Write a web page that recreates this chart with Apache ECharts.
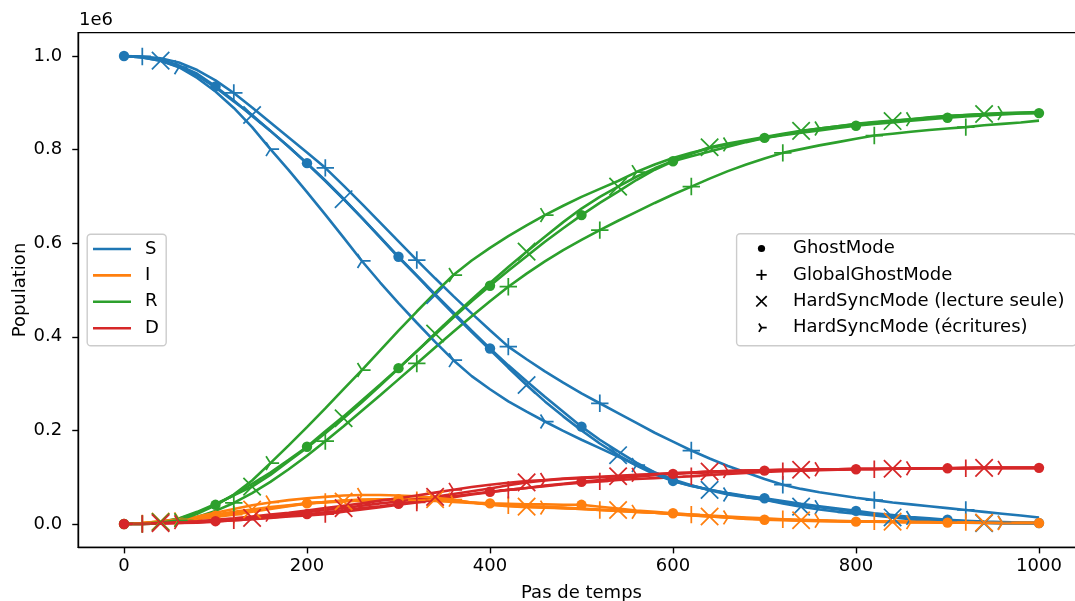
<!DOCTYPE html>
<html><head><meta charset="utf-8">
<script src="https://cdn.jsdelivr.net/npm/echarts@6/dist/echarts.min.js"></script>
<style>html,body{margin:0;padding:0;background:#fff}#chart{width:1075px;height:601px}</style>
</head><body><div id="chart"></div>
<script>
// ---------- data ----------
const steps = [0,20,40,60,80,100,120,140,160,180,200,220,240,260,280,300,320,340,360,380,400,420,440,460,480,500,520,540,560,580,600,620,640,660,680,700,720,740,760,780,800,820,840,860,880,900,920,940,960,980,1000];
const xTicks = [0,200,400,600,800,1000];
const yTicks = [0,0.2,0.4,0.6,0.8,1.0];
const compartments = ['S','I','R','D'];
const modes = ['GhostMode','GlobalGhostMode','HardSyncMode (lecture seule)','HardSyncMode (écritures)'];

// values in units of 1e6
const S_ghost = [1.000,0.998,0.992,0.980,0.962,0.935,0.905,0.872,0.840,0.806,
  0.771,0.734,0.695,0.654,0.613,0.571,0.531,0.491,0.452,0.413,
  0.375,0.339,0.305,0.272,0.240,0.208,0.180,0.155,0.131,0.110,
  0.092,0.081,0.073,0.066,0.060,0.055,0.049,0.043,0.038,0.033,
  0.028,0.023,0.019,0.015,0.012,0.009,0.007,0.005,0.004,0.003,0.002];
const S_global = [1.000,0.999,0.995,0.986,0.970,0.948,0.921,0.890,0.858,0.826,
  0.794,0.761,0.723,0.684,0.644,0.604,0.564,0.525,0.487,0.450,
  0.414,0.379,0.352,0.326,0.302,0.279,0.258,0.237,0.216,0.195,
  0.176,0.157,0.140,0.124,0.110,0.096,0.084,0.075,0.068,0.062,
  0.056,0.051,0.046,0.042,0.038,0.034,0.030,0.026,0.022,0.018,0.014];
const S_lect = [1.000,0.997,0.990,0.977,0.958,0.933,0.903,0.874,0.840,0.806,
  0.770,0.733,0.694,0.654,0.612,0.570,0.530,0.489,0.449,0.410,
  0.372,0.334,0.297,0.262,0.230,0.200,0.172,0.147,0.125,0.106,
  0.092,0.082,0.073,0.065,0.058,0.052,0.044,0.037,0.031,0.026,
  0.022,0.018,0.014,0.010,0.007,0.005,0.003,0.002,0.001,0.001,0.001];
const S_ecr = [1.000,0.997,0.990,0.976,0.953,0.924,0.889,0.848,0.801,0.756,
  0.709,0.661,0.612,0.562,0.516,0.472,0.430,0.389,0.350,0.316,
  0.288,0.262,0.240,0.219,0.199,0.180,0.162,0.144,0.126,0.110,
  0.095,0.083,0.072,0.063,0.057,0.052,0.046,0.041,0.036,0.031,
  0.026,0.021,0.017,0.013,0.010,0.008,0.006,0.004,0.003,0.002,0.002];

const I_ghost = [0.000,0.002,0.005,0.009,0.013,0.018,0.023,0.028,0.034,0.039,
  0.044,0.047,0.050,0.052,0.053,0.053,0.052,0.051,0.049,0.046,
  0.044,0.043,0.042,0.042,0.041,0.041,0.037,0.033,0.029,0.026,
  0.023,0.020,0.017,0.014,0.011,0.009,0.008,0.007,0.006,0.006,
  0.005,0.005,0.004,0.004,0.004,0.003,0.003,0.003,0.002,0.002,0.002];
const I_global = [0.000,0.001,0.003,0.006,0.010,0.015,0.020,0.026,0.032,0.038,
  0.044,0.047,0.050,0.051,0.052,0.052,0.051,0.049,0.047,0.045,
  0.043,0.040,0.038,0.036,0.034,0.032,0.030,0.028,0.026,0.024,
  0.022,0.020,0.018,0.016,0.014,0.012,0.010,0.009,0.008,0.007,
  0.006,0.006,0.005,0.005,0.004,0.004,0.004,0.003,0.003,0.003,0.003];
const I_lect = [0.000,0.002,0.005,0.009,0.014,0.020,0.026,0.031,0.036,0.040,
  0.044,0.046,0.048,0.050,0.052,0.053,0.053,0.053,0.050,0.046,
  0.042,0.039,0.037,0.036,0.035,0.033,0.031,0.030,0.027,0.024,
  0.021,0.018,0.016,0.014,0.012,0.010,0.009,0.008,0.007,0.006,
  0.005,0.005,0.005,0.004,0.004,0.003,0.003,0.003,0.002,0.002,0.002];
const I_ecr = [0.000,0.002,0.006,0.010,0.016,0.024,0.032,0.040,0.046,0.051,
  0.055,0.058,0.061,0.062,0.062,0.061,0.059,0.056,0.052,0.046,
  0.041,0.038,0.036,0.035,0.034,0.032,0.030,0.028,0.026,0.024,
  0.022,0.019,0.016,0.014,0.012,0.010,0.009,0.008,0.007,0.006,
  0.005,0.005,0.005,0.004,0.004,0.003,0.003,0.003,0.002,0.002,0.002];

const R_ghost = [0.000,0.000,0.003,0.011,0.024,0.041,0.062,0.086,0.110,0.137,
  0.165,0.198,0.230,0.264,0.298,0.333,0.369,0.405,0.441,0.476,
  0.509,0.541,0.572,0.603,0.632,0.660,0.686,0.710,0.735,0.757,
  0.775,0.786,0.796,0.806,0.816,0.825,0.831,0.836,0.841,0.846,
  0.851,0.855,0.858,0.862,0.865,0.868,0.871,0.873,0.875,0.877,0.878];
const R_global = [0.000,0.000,0.001,0.006,0.015,0.028,0.045,0.066,0.090,0.117,
  0.146,0.177,0.209,0.242,0.275,0.309,0.343,0.377,0.411,0.444,
  0.476,0.507,0.535,0.561,0.585,0.607,0.628,0.648,0.667,0.686,
  0.704,0.721,0.738,0.754,0.768,0.781,0.793,0.801,0.809,0.816,
  0.823,0.830,0.834,0.838,0.842,0.845,0.848,0.852,0.855,0.858,0.862];
const R_lect = [0.000,0.001,0.004,0.012,0.026,0.043,0.061,0.080,0.105,0.134,
  0.163,0.194,0.226,0.260,0.296,0.332,0.369,0.407,0.444,0.480,
  0.515,0.549,0.582,0.614,0.645,0.674,0.699,0.721,0.742,0.760,
  0.776,0.791,0.805,0.813,0.820,0.827,0.834,0.840,0.845,0.850,
  0.854,0.858,0.861,0.865,0.868,0.871,0.874,0.876,0.877,0.878,0.879];
const R_ecr = [0.000,0.001,0.003,0.008,0.022,0.040,0.063,0.093,0.130,0.168,
  0.207,0.247,0.288,0.329,0.371,0.413,0.454,0.494,0.532,0.563,
  0.590,0.615,0.638,0.660,0.680,0.699,0.716,0.733,0.752,0.768,
  0.782,0.793,0.803,0.811,0.818,0.825,0.832,0.839,0.845,0.850,
  0.855,0.859,0.862,0.865,0.869,0.872,0.874,0.876,0.878,0.879,0.880];

const D_ghost = [0.000,0.000,0.001,0.002,0.004,0.006,0.008,0.011,0.014,0.017,
  0.021,0.025,0.029,0.034,0.038,0.043,0.048,0.054,0.059,0.064,
  0.069,0.073,0.077,0.082,0.086,0.090,0.094,0.098,0.101,0.104,
  0.107,0.109,0.110,0.112,0.113,0.114,0.115,0.115,0.116,0.116,
  0.117,0.117,0.118,0.118,0.119,0.119,0.119,0.120,0.120,0.120,0.120];
const D_global = [0.000,0.000,0.001,0.002,0.003,0.005,0.008,0.010,0.013,0.016,
  0.018,0.021,0.026,0.031,0.036,0.041,0.046,0.052,0.057,0.063,
  0.068,0.073,0.077,0.081,0.085,0.088,0.091,0.094,0.096,0.098,
  0.100,0.102,0.105,0.107,0.109,0.111,0.113,0.114,0.115,0.116,
  0.117,0.117,0.118,0.118,0.119,0.119,0.119,0.120,0.120,0.120,0.120];
const D_lect = [0.000,0.001,0.002,0.003,0.005,0.007,0.010,0.013,0.017,0.021,
  0.025,0.030,0.034,0.039,0.044,0.048,0.053,0.058,0.064,0.070,
  0.076,0.083,0.089,0.093,0.096,0.098,0.100,0.102,0.104,0.106,
  0.108,0.110,0.112,0.113,0.114,0.115,0.116,0.116,0.117,0.117,
  0.118,0.118,0.118,0.119,0.119,0.119,0.120,0.120,0.120,0.120,0.120];
const D_ecr = [0.000,0.001,0.002,0.004,0.006,0.009,0.012,0.016,0.020,0.024,
  0.029,0.034,0.039,0.044,0.050,0.055,0.061,0.067,0.073,0.079,
  0.084,0.088,0.092,0.094,0.097,0.099,0.101,0.103,0.105,0.107,
  0.109,0.110,0.112,0.113,0.114,0.115,0.116,0.116,0.117,0.117,
  0.118,0.118,0.118,0.119,0.119,0.119,0.120,0.120,0.120,0.120,0.120];

const table = {
  'GhostMode': {S:S_ghost, I:I_ghost, R:R_ghost, D:D_ghost},
  'GlobalGhostMode': {S:S_global, I:I_global, R:R_global, D:D_global},
  'HardSyncMode (lecture seule)': {S:S_lect, I:I_lect, R:R_lect, D:D_lect},
  'HardSyncMode (écritures)': {S:S_ecr, I:I_ecr, R:R_ecr, D:D_ecr}
};

// ---------- styles ----------
const colors = {S:'#1f77b4', I:'#ff7f0e', R:'#2ca02c', D:'#d62728'};
const FONT = 'DejaVu Sans';
const FS = 18;

function bar(ax, ay, bx, by, h) {
  const dx = bx - ax, dy = by - ay, L = Math.hypot(dx, dy);
  const nx = -dy / L * h, ny = dx / L * h;
  let pts = [[ax+nx, ay+ny],[bx+nx, by+ny],[bx-nx, by-ny],[ax-nx, ay-ny]];
  let area = 0;
  for (let i = 0; i < 4; i++) { const p = pts[i], q = pts[(i+1)%4]; area += p[0]*q[1] - q[0]*p[1]; }
  if (area < 0) pts.reverse();
  return 'M' + pts.map(p => p[0].toFixed(3) + ',' + p[1].toFixed(3)).join(' L') + ' Z ';
}
function pad(P) { return 'M' + (-P) + ',' + (-P) + ' L' + (-P) + ',' + (-P) + ' M' + P + ',' + P + ' L' + P + ',' + P; }
function plusPath(r, h, P) { return 'path://' + bar(-r,0,r,0,h) + bar(0,-r,0,r,h) + pad(P); }
function xPath(r, h, P) { return 'path://' + bar(-r,-r,r,r,h) + bar(-r,r,r,-r,h) + pad(P); }
function triPath(u, h, P) { return 'path://' + bar(0,0,u,0,h) + bar(0,0,-0.5*u,-0.8*u,h) + bar(0,0,-0.5*u,0.8*u,h) + pad(P); }
function dotPath(r, P) { return 'path://M' + (-r) + ',0 A' + r + ',' + r + ' 0 1,0 ' + r + ',0 A' + r + ',' + r + ' 0 1,0 ' + (-r) + ',0 Z ' + pad(P); }

const MP = 10; // plot marker pad
const plotMarkers = {
  'GhostMode': {symbol:'circle', size:10.4, offset:0},
  'GlobalGhostMode': {symbol:plusPath(8.7, 0.87, MP), size:2*MP, offset:1},
  'HardSyncMode (lecture seule)': {symbol:xPath(8.7, 0.87, MP), size:2*MP, offset:2},
  'HardSyncMode (écritures)': {symbol:triPath(8.7, 0.87, MP), size:2*MP, offset:3}
};
const LP = 9;
const legendIcons = [dotPath(3.6, LP), plusPath(5.2, 0.87, LP), xPath(5.2, 0.87, LP), triPath(5.2, 0.87, LP)];
const lineIcon = 'path://M0,0 L38,0 L38,2.6 L0,2.6 Z M0,-7.7 L0,-7.7 M47,10.3 L47,10.3';

const series = [];
modes.forEach(m => {
  const mk = plotMarkers[m];
  compartments.forEach(c => {
    const vals = table[m][c];
    series.push({
      type: 'line', name: c + ' / ' + m,
      data: steps.map((t, i) => [t, vals[i]]),
      lineStyle: {width: 2.6, color: colors[c]},
      itemStyle: {color: colors[c], borderWidth: 0},
      symbol: mk.symbol,
      symbolSize: (v, p) => (p.dataIndex % 5 === mk.offset) ? mk.size : 0,
      showSymbol: true, showAllSymbol: true,
      silent: true, animation: false
    });
  });
});
compartments.forEach(c => series.push({type:'line', name:c, data:[], color:colors[c], itemStyle:{color:colors[c]}, lineStyle:{color:colors[c]}}));
modes.forEach(m => series.push({type:'line', name:m, data:[], color:'#000', itemStyle:{color:'#000'}, lineStyle:{color:'#000'}}));

const axisLabelStyle = {fontFamily: FONT, fontSize: FS, color: '#000'};

const option = {
  animation: false,
  backgroundColor: '#fff',
  grid: {left: 78.25, top: 32.6, width: 1006.5, height: 514.8, show: true, borderColor: '#000', borderWidth: 1.4,
         containLabel: false, outerBoundsMode: 'none'},
  xAxis: {
    type: 'value', min: -50, max: 1050,
    name: 'Pas de temps', nameLocation: 'middle', nameGap: 37, nameMoveOverlap: false,
    nameTextStyle: {fontFamily: FONT, fontSize: FS, color: '#000'},
    axisLine: {show: true, onZero: false, lineStyle: {color: '#000', width: 1.4}},
    axisTick: {show: true, length: 6, lineStyle: {color: '#000', width: 1.4}, customValues: xTicks},
    axisLabel: Object.assign({margin: 10, customValues: xTicks, formatter: v => String(v)}, axisLabelStyle),
    splitLine: {show: false}
  },
  yAxis: {
    type: 'value', min: -0.05, max: 1.05,
    name: 'Population', nameLocation: 'middle', nameGap: 49, nameRotate: 90, nameMoveOverlap: false,
    nameTextStyle: {fontFamily: FONT, fontSize: FS, color: '#000'},
    axisLine: {show: true, onZero: false, lineStyle: {color: '#000', width: 1.4}},
    axisTick: {show: true, length: 6, lineStyle: {color: '#000', width: 1.4}, customValues: yTicks},
    axisLabel: Object.assign({margin: 16, customValues: yTicks, formatter: v => v.toFixed(1)}, axisLabelStyle),
    splitLine: {show: false}
  },
  legend: [
    {
      data: compartments.map(c => ({name: c, icon: lineIcon})),
      orient: 'vertical', left: 93, top: 240, padding: 0,
      itemWidth: 47, itemHeight: 18, itemGap: 8.4, selectedMode: false,
      itemStyle: {borderWidth: 0},
      textStyle: {fontFamily: FONT, fontSize: FS, color: '#000'}
    },
    {
      data: modes.map((m, i) => ({name: m, icon: legendIcons[i], itemStyle: {color: '#000', borderWidth: 0}})),
      orient: 'vertical', left: 752.5, top: 239.5, padding: 0,
      itemWidth: 53, itemHeight: 18, itemGap: 8.4, selectedMode: false,
      itemStyle: {borderWidth: 0},
      textStyle: {fontFamily: FONT, fontSize: FS, color: '#000'}
    }
  ],
  graphic: [
    {type: 'rect', z: 3, shape: {x: 87.2, y: 234.2, width: 79, height: 111.6, r: 3.5},
     style: {fill: 'rgba(255,255,255,0.8)', stroke: '#cccccc', lineWidth: 1.4}},
    {type: 'rect', z: 3, shape: {x: 736.6, y: 233.8, width: 339.5, height: 112, r: 3.5},
     style: {fill: 'rgba(255,255,255,0.8)', stroke: '#cccccc', lineWidth: 1.4}},
    {type: 'text', z: 5, left: 79, top: 11, style: {text: '1e6', font: FS + 'px "' + FONT + '"', fill: '#000'}}
  ],
  series: series
};

const chart = echarts.init(document.getElementById('chart'), null, {renderer: 'canvas'});
chart.setOption(option);
</script>
</body></html>
